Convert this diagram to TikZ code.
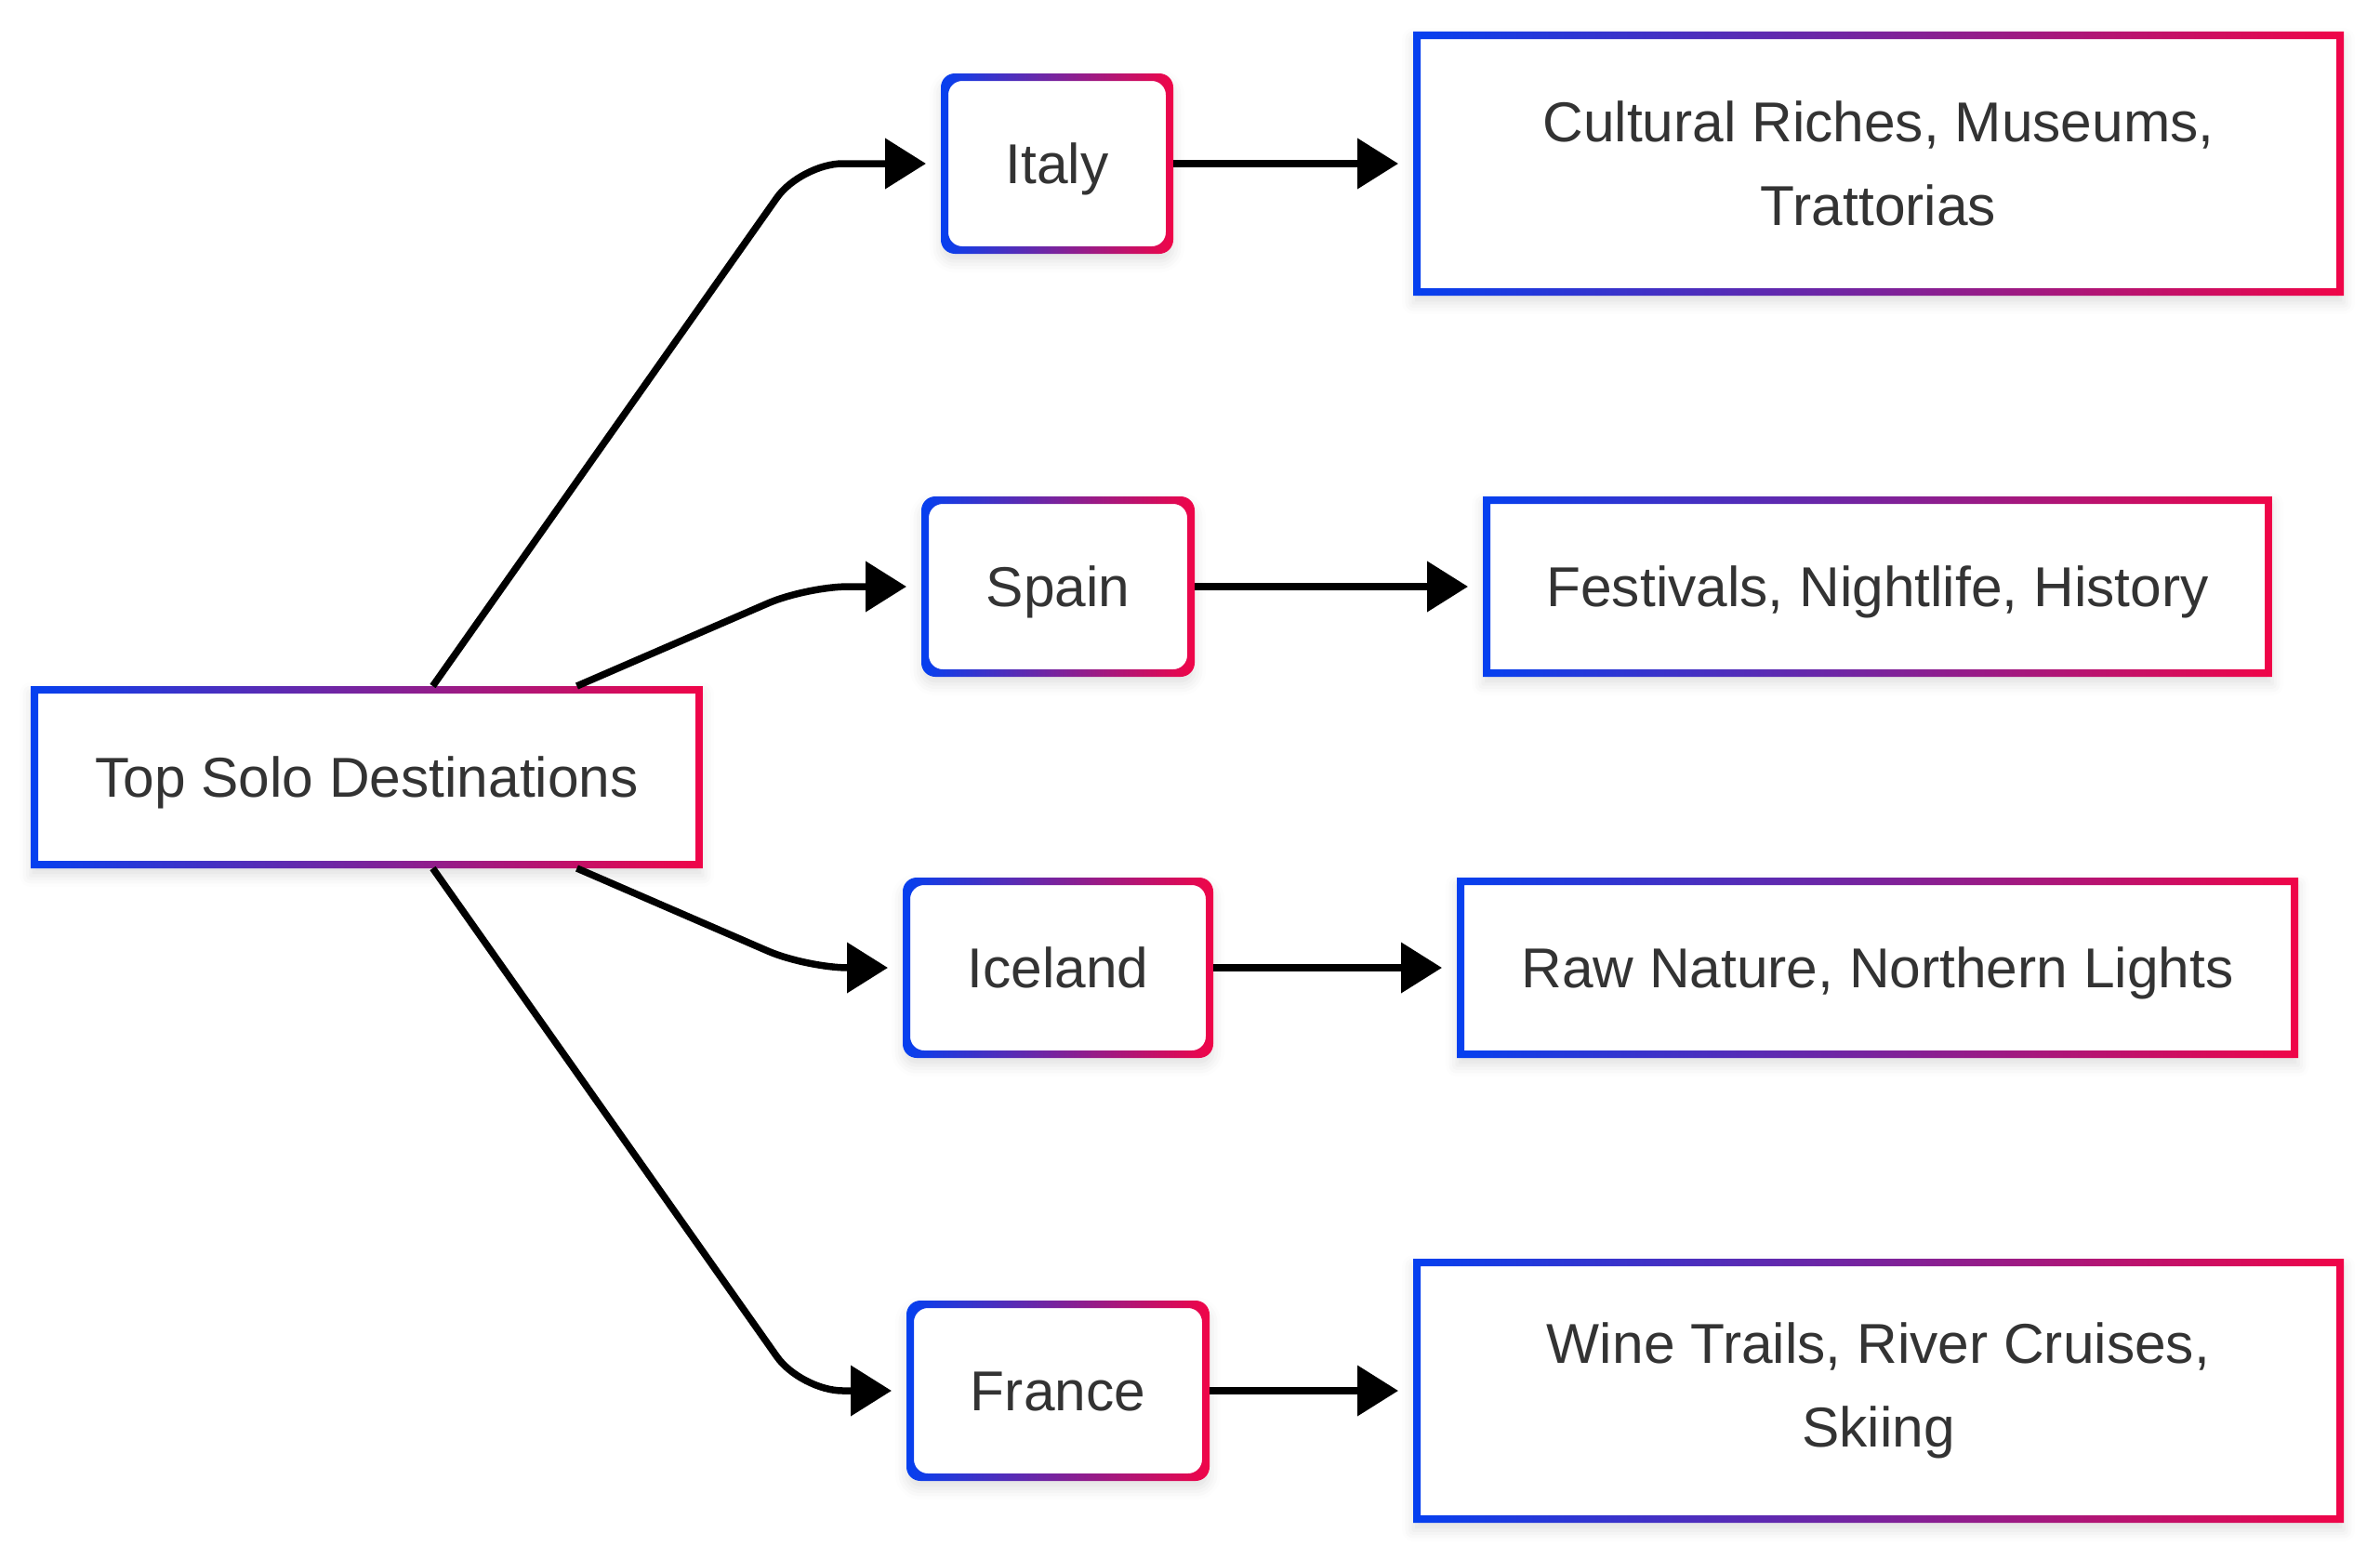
\documentclass[tikz,border=0pt]{standalone}
\usepackage{fontspec}
\setmainfont{Liberation Sans}
\usepackage{xcolor}
\usetikzlibrary{
    arrows.meta,
    positioning,
    calc,
    shadows.blur
}
\definecolor{frameblue}{RGB}{5, 64, 240}
\definecolor{framered}{RGB}{240, 5, 72}
\definecolor{textgray}{RGB}{51, 51, 51}
% gradient frame round a node: name, corner option
\newcommand{\gradframe}[2]{%
    \shade[left color=frameblue, right color=framered, even odd rule, #2]
        (#1.south west) rectangle (#1.north east)
        ($(#1.south west)+(0.08,0.08)$) rectangle ($(#1.north east)-(0.08,0.08)$);
}

\begin{document}
\begin{tikzpicture}[
        box/.style={fill=white, text=textgray, align=center, inner sep=0pt, outer sep=0pt,
            font=\fontsize{17.2}{25.6}\selectfont,
            blur shadow={shadow xshift=0pt, shadow yshift=-0.08cm, shadow blur radius=0.12cm, shadow opacity=12}},
        oneline/.style={text height=15.6pt, text depth=3.6pt},
        country/.style={box, oneline, rounded corners=0.15cm, minimum height=1.94cm},
        arrow/.style={-{Triangle[length=0.44cm, width=0.53cm]}, line width=0.075cm,
            shorten >=0.16cm, rounded corners=0.45cm}
    ]
        \useasboundingbox (0, 0) rectangle (25.6, -16.77);

        % Root
        \node[box, oneline, minimum width=7.23cm, minimum height=1.96cm] (root) at (3.945, -8.36) {Top Solo Destinations};

        % Countries
        \node[country, minimum width=2.5cm] (italy) at (11.37, -1.76) {Italy};
        \node[country, minimum width=2.94cm] (spain) at (11.38, -6.31) {Spain};
        \node[country, minimum width=3.34cm] (iceland) at (11.38, -10.41) {Iceland};
        \node[country, minimum width=3.26cm] (france) at (11.38, -14.96) {France};

        % Highlights
        \node[box, minimum width=10.01cm, minimum height=2.84cm] (cultural) at (20.205, -1.76) {%
            Cultural Riches, Museums,\\
            Trattorias};
        \node[box, oneline, minimum width=8.49cm, minimum height=1.94cm] (festivals) at (20.195, -6.31) {Festivals, Nightlife, History};
        \node[box, oneline, minimum width=9.05cm, minimum height=1.94cm] (nature) at (20.195, -10.41) {Raw Nature, Northern Lights};
        \node[box, minimum width=10.01cm, minimum height=2.84cm] (wine) at (20.205, -14.96) {%
            Wine Trails, River Cruises,\\
            Skiing};

        % Frames
        \gradframe{root}{sharp corners}
        \gradframe{italy}{rounded corners=0.15cm}
        \gradframe{spain}{rounded corners=0.15cm}
        \gradframe{iceland}{rounded corners=0.15cm}
        \gradframe{france}{rounded corners=0.15cm}
        \gradframe{cultural}{sharp corners}
        \gradframe{festivals}{sharp corners}
        \gradframe{nature}{sharp corners}
        \gradframe{wine}{sharp corners}

        % Arrows
        \draw[arrow] ([xshift=0.71cm]root.north) -- ([xshift=4.67cm]root.north |- italy.west) -- (italy.west);
        \draw[arrow] ([xshift=2.26cm]root.north) -- ([xshift=4.73cm]root.north |- spain.west) -- (spain.west);
        \draw[arrow] ([xshift=2.26cm]root.south) -- ([xshift=4.73cm]root.south |- iceland.west) -- (iceland.west);
        \draw[arrow] ([xshift=0.71cm]root.south) -- ([xshift=4.67cm]root.south |- france.west) -- (france.west);

        \draw[arrow] (italy) -- (cultural);
        \draw[arrow] (spain) -- (festivals);
        \draw[arrow] (iceland) -- (nature);
        \draw[arrow] (france) -- (wine);
    \end{tikzpicture}
\end{document}
